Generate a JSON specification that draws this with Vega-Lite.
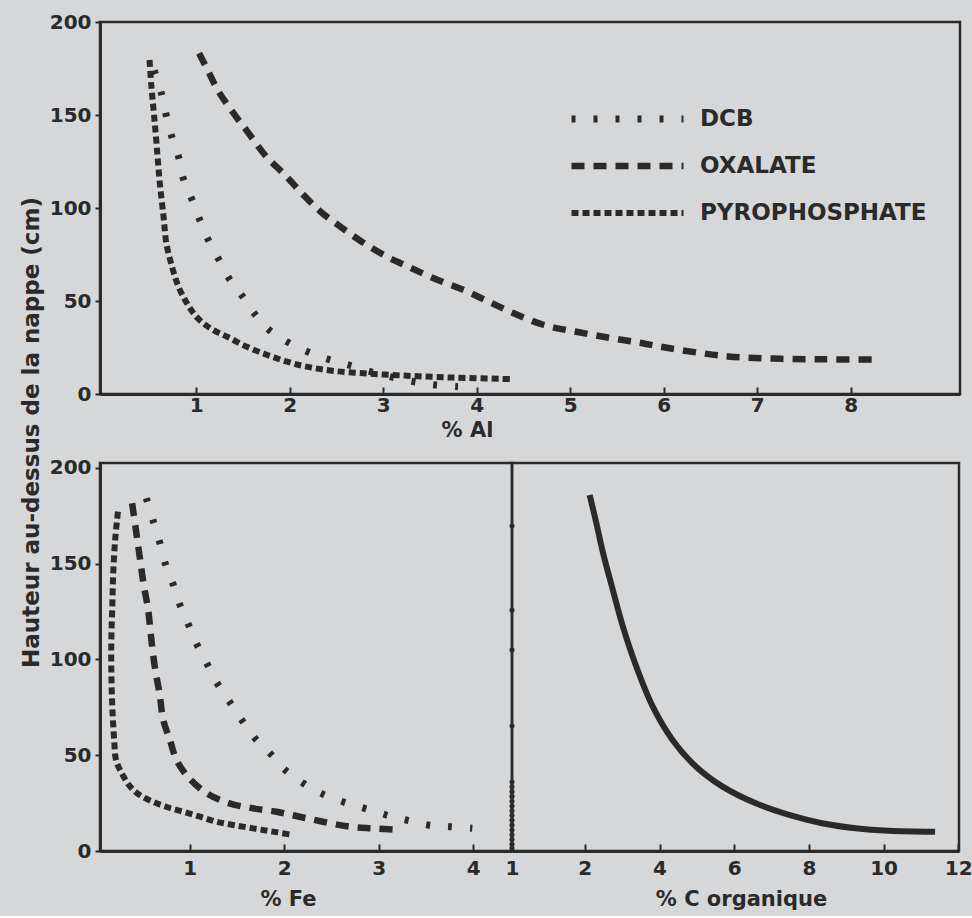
{
  "$schema": "https://vega.github.io/schema/vega-lite/v6.json",
  "background": "#d6d7d9",
  "padding": {"left": 18, "top": 10, "right": 0, "bottom": 5},
  "config": {
    "font": "DejaVu Sans",
    "view": {"stroke": "#2a2a2a", "strokeWidth": 2.5},
    "axis": {
      "labelFont": "DejaVu Sans", "labelFontWeight": "bold", "labelFontSize": 20, "labelColor": "#2a2a2a", "labelFlush": false,
      "titleFont": "DejaVu Sans", "titleFontWeight": "bold", "titleFontSize": 21, "titleColor": "#2a2a2a",
      "domainColor": "#2a2a2a", "domainWidth": 3, "tickColor": "#2a2a2a", "tickWidth": 2, "grid": false
    }
  },
  "datasets": {
    "al": [
      {"m": "DCB", "i": 1, "x": 0.55, "y": 174}, {"m": "DCB", "i": 2, "x": 0.63, "y": 161}, {"m": "DCB", "i": 3, "x": 0.68, "y": 149.5},
      {"m": "DCB", "i": 4, "x": 0.74, "y": 138}, {"m": "DCB", "i": 5, "x": 0.81, "y": 127.6}, {"m": "DCB", "i": 6, "x": 0.86, "y": 116},
      {"m": "DCB", "i": 7, "x": 0.95, "y": 105}, {"m": "DCB", "i": 8, "x": 1.03, "y": 94.5}, {"m": "DCB", "i": 9, "x": 1.12, "y": 83.7},
      {"m": "DCB", "i": 10, "x": 1.24, "y": 72.4}, {"m": "DCB", "i": 11, "x": 1.35, "y": 62.2}, {"m": "DCB", "i": 12, "x": 1.49, "y": 52.8},
      {"m": "DCB", "i": 13, "x": 1.62, "y": 43.4}, {"m": "DCB", "i": 14, "x": 1.78, "y": 34.4}, {"m": "DCB", "i": 15, "x": 1.98, "y": 27.8},
      {"m": "DCB", "i": 16, "x": 2.19, "y": 22.7}, {"m": "DCB", "i": 17, "x": 2.41, "y": 18.7}, {"m": "DCB", "i": 18, "x": 2.63, "y": 15.6},
      {"m": "DCB", "i": 19, "x": 2.9, "y": 11.5}, {"m": "DCB", "i": 20, "x": 3.1, "y": 9}, {"m": "DCB", "i": 21, "x": 3.33, "y": 6.6},
      {"m": "DCB", "i": 22, "x": 3.56, "y": 4.8}, {"m": "DCB", "i": 23, "x": 3.8, "y": 3.9},
      {"m": "OXALATE", "i": 1, "x": 1.03, "y": 183.2}, {"m": "OXALATE", "i": 2, "x": 1.13, "y": 173.3}, {"m": "OXALATE", "i": 3, "x": 1.24, "y": 162.5},
      {"m": "OXALATE", "i": 4, "x": 1.4, "y": 150.9}, {"m": "OXALATE", "i": 5, "x": 1.56, "y": 140.2}, {"m": "OXALATE", "i": 6, "x": 1.75, "y": 127.6},
      {"m": "OXALATE", "i": 7, "x": 1.95, "y": 117.7}, {"m": "OXALATE", "i": 8, "x": 2.13, "y": 107.9}, {"m": "OXALATE", "i": 9, "x": 2.33, "y": 98},
      {"m": "OXALATE", "i": 10, "x": 2.54, "y": 90}, {"m": "OXALATE", "i": 11, "x": 2.77, "y": 81.9}, {"m": "OXALATE", "i": 12, "x": 3.04, "y": 73.8},
      {"m": "OXALATE", "i": 13, "x": 3.27, "y": 68.4}, {"m": "OXALATE", "i": 14, "x": 3.54, "y": 62.2}, {"m": "OXALATE", "i": 15, "x": 3.86, "y": 55.9},
      {"m": "OXALATE", "i": 16, "x": 4.13, "y": 49.6}, {"m": "OXALATE", "i": 17, "x": 4.39, "y": 43.5}, {"m": "OXALATE", "i": 18, "x": 4.72, "y": 37.1},
      {"m": "OXALATE", "i": 19, "x": 5.08, "y": 33.3}, {"m": "OXALATE", "i": 20, "x": 5.43, "y": 30.1}, {"m": "OXALATE", "i": 21, "x": 5.76, "y": 27.4},
      {"m": "OXALATE", "i": 22, "x": 6.05, "y": 24.7}, {"m": "OXALATE", "i": 23, "x": 6.4, "y": 22}, {"m": "OXALATE", "i": 24, "x": 6.69, "y": 20.2},
      {"m": "OXALATE", "i": 25, "x": 6.97, "y": 19.4}, {"m": "OXALATE", "i": 26, "x": 7.26, "y": 18.9}, {"m": "OXALATE", "i": 27, "x": 7.55, "y": 18.7},
      {"m": "OXALATE", "i": 28, "x": 7.82, "y": 18.6}, {"m": "OXALATE", "i": 29, "x": 8.3, "y": 18.5},
      {"m": "PYROPHOSPHATE", "i": 1, "x": 0.5, "y": 179.6}, {"m": "PYROPHOSPHATE", "i": 2, "x": 0.52, "y": 165.2}, {"m": "PYROPHOSPHATE", "i": 3, "x": 0.55, "y": 149.1},
      {"m": "PYROPHOSPHATE", "i": 4, "x": 0.58, "y": 131.2}, {"m": "PYROPHOSPHATE", "i": 5, "x": 0.61, "y": 113.3}, {"m": "PYROPHOSPHATE", "i": 6, "x": 0.65, "y": 95.3},
      {"m": "PYROPHOSPHATE", "i": 7, "x": 0.68, "y": 81}, {"m": "PYROPHOSPHATE", "i": 8, "x": 0.74, "y": 68.5}, {"m": "PYROPHOSPHATE", "i": 9, "x": 0.81, "y": 57.7},
      {"m": "PYROPHOSPHATE", "i": 10, "x": 0.9, "y": 48.8}, {"m": "PYROPHOSPHATE", "i": 11, "x": 1.0, "y": 41.6}, {"m": "PYROPHOSPHATE", "i": 12, "x": 1.15, "y": 35.3},
      {"m": "PYROPHOSPHATE", "i": 13, "x": 1.33, "y": 30.8}, {"m": "PYROPHOSPHATE", "i": 14, "x": 1.54, "y": 25.4}, {"m": "PYROPHOSPHATE", "i": 15, "x": 1.76, "y": 21},
      {"m": "PYROPHOSPHATE", "i": 16, "x": 1.97, "y": 17.4}, {"m": "PYROPHOSPHATE", "i": 17, "x": 2.18, "y": 14.7}, {"m": "PYROPHOSPHATE", "i": 18, "x": 2.47, "y": 12.4},
      {"m": "PYROPHOSPHATE", "i": 19, "x": 2.83, "y": 11}, {"m": "PYROPHOSPHATE", "i": 20, "x": 3.18, "y": 10}, {"m": "PYROPHOSPHATE", "i": 21, "x": 3.54, "y": 9.2},
      {"m": "PYROPHOSPHATE", "i": 22, "x": 3.9, "y": 8.6}, {"m": "PYROPHOSPHATE", "i": 23, "x": 4.39, "y": 8}
    ],
    "fe": [
      {"m": "DCB", "i": 1, "x": 0.54, "y": 184.2}, {"m": "DCB", "i": 2, "x": 0.61, "y": 172.8}, {"m": "DCB", "i": 3, "x": 0.68, "y": 161.5},
      {"m": "DCB", "i": 4, "x": 0.74, "y": 150.2}, {"m": "DCB", "i": 5, "x": 0.82, "y": 139.8}, {"m": "DCB", "i": 6, "x": 0.89, "y": 129.3},
      {"m": "DCB", "i": 7, "x": 0.98, "y": 118.9}, {"m": "DCB", "i": 8, "x": 1.07, "y": 108.4}, {"m": "DCB", "i": 9, "x": 1.18, "y": 98},
      {"m": "DCB", "i": 10, "x": 1.29, "y": 87.6}, {"m": "DCB", "i": 11, "x": 1.42, "y": 78}, {"m": "DCB", "i": 12, "x": 1.55, "y": 68.4},
      {"m": "DCB", "i": 13, "x": 1.69, "y": 58.9}, {"m": "DCB", "i": 14, "x": 1.85, "y": 51}, {"m": "DCB", "i": 15, "x": 2.01, "y": 42.3},
      {"m": "DCB", "i": 16, "x": 2.2, "y": 35.4}, {"m": "DCB", "i": 17, "x": 2.39, "y": 30.1}, {"m": "DCB", "i": 18, "x": 2.62, "y": 25.7},
      {"m": "DCB", "i": 19, "x": 2.85, "y": 22.3}, {"m": "DCB", "i": 20, "x": 3.08, "y": 18.8}, {"m": "DCB", "i": 21, "x": 3.29, "y": 16.2},
      {"m": "DCB", "i": 22, "x": 3.52, "y": 13.6}, {"m": "DCB", "i": 23, "x": 3.75, "y": 12.7}, {"m": "DCB", "i": 24, "x": 3.99, "y": 11.9},
      {"m": "OXALATE", "i": 1, "x": 0.39, "y": 181.6}, {"m": "OXALATE", "i": 2, "x": 0.43, "y": 167.6}, {"m": "OXALATE", "i": 3, "x": 0.47, "y": 153.7},
      {"m": "OXALATE", "i": 4, "x": 0.51, "y": 139.8}, {"m": "OXALATE", "i": 5, "x": 0.56, "y": 125.8}, {"m": "OXALATE", "i": 6, "x": 0.59, "y": 111.9},
      {"m": "OXALATE", "i": 7, "x": 0.63, "y": 96.2}, {"m": "OXALATE", "i": 8, "x": 0.68, "y": 82.3}, {"m": "OXALATE", "i": 9, "x": 0.72, "y": 68.4},
      {"m": "OXALATE", "i": 10, "x": 0.79, "y": 58}, {"m": "OXALATE", "i": 11, "x": 0.86, "y": 47.5}, {"m": "OXALATE", "i": 12, "x": 0.98, "y": 38.8},
      {"m": "OXALATE", "i": 13, "x": 1.18, "y": 30.1}, {"m": "OXALATE", "i": 14, "x": 1.42, "y": 24.9}, {"m": "OXALATE", "i": 15, "x": 1.67, "y": 22.3},
      {"m": "OXALATE", "i": 16, "x": 1.92, "y": 20.5}, {"m": "OXALATE", "i": 17, "x": 2.16, "y": 17.9}, {"m": "OXALATE", "i": 18, "x": 2.41, "y": 15.3},
      {"m": "OXALATE", "i": 19, "x": 2.69, "y": 12.7}, {"m": "OXALATE", "i": 20, "x": 2.94, "y": 11.8}, {"m": "OXALATE", "i": 21, "x": 3.22, "y": 11},
      {"m": "PYROPHOSPHATE", "i": 1, "x": 0.24, "y": 177.2}, {"m": "PYROPHOSPHATE", "i": 2, "x": 0.21, "y": 162.4}, {"m": "PYROPHOSPHATE", "i": 3, "x": 0.19, "y": 145},
      {"m": "PYROPHOSPHATE", "i": 4, "x": 0.18, "y": 127.6}, {"m": "PYROPHOSPHATE", "i": 5, "x": 0.17, "y": 110.2}, {"m": "PYROPHOSPHATE", "i": 6, "x": 0.17, "y": 92.8},
      {"m": "PYROPHOSPHATE", "i": 7, "x": 0.18, "y": 75.4}, {"m": "PYROPHOSPHATE", "i": 8, "x": 0.2, "y": 58}, {"m": "PYROPHOSPHATE", "i": 9, "x": 0.22, "y": 47.5},
      {"m": "PYROPHOSPHATE", "i": 10, "x": 0.28, "y": 40.6}, {"m": "PYROPHOSPHATE", "i": 11, "x": 0.37, "y": 33.6}, {"m": "PYROPHOSPHATE", "i": 12, "x": 0.47, "y": 29.2},
      {"m": "PYROPHOSPHATE", "i": 13, "x": 0.61, "y": 25.7}, {"m": "PYROPHOSPHATE", "i": 14, "x": 0.75, "y": 23.1}, {"m": "PYROPHOSPHATE", "i": 15, "x": 0.93, "y": 20.5},
      {"m": "PYROPHOSPHATE", "i": 16, "x": 1.11, "y": 17.9}, {"m": "PYROPHOSPHATE", "i": 17, "x": 1.28, "y": 15.3}, {"m": "PYROPHOSPHATE", "i": 18, "x": 1.46, "y": 13.6},
      {"m": "PYROPHOSPHATE", "i": 19, "x": 1.67, "y": 11.8}, {"m": "PYROPHOSPHATE", "i": 20, "x": 1.88, "y": 10.1}, {"m": "PYROPHOSPHATE", "i": 21, "x": 2.09, "y": 8.4}
    ],
    "corg": [
      {"i": 1, "x": 2.13, "y": 185.9}, {"i": 2, "x": 2.31, "y": 171.1}, {"i": 3, "x": 2.49, "y": 155.5}, {"i": 4, "x": 2.75, "y": 136.3},
      {"i": 5, "x": 3.02, "y": 117.1}, {"i": 6, "x": 3.38, "y": 96.2}, {"i": 7, "x": 3.82, "y": 75.4}, {"i": 8, "x": 4.35, "y": 58},
      {"i": 9, "x": 4.98, "y": 44}, {"i": 10, "x": 5.69, "y": 33.6}, {"i": 11, "x": 6.58, "y": 24.9}, {"i": 12, "x": 7.47, "y": 18.8},
      {"i": 13, "x": 8.35, "y": 14.5}, {"i": 14, "x": 9.25, "y": 11.9}, {"i": 15, "x": 10.13, "y": 10.6}, {"i": 16, "x": 11.38, "y": 10.1}
    ],
    "dots": [
      {"x": 0.05, "y": 169.7}, {"x": 0.05, "y": 125.8}, {"x": 0.05, "y": 105}, {"x": 0.05, "y": 65.3},
      {"x": 0.05, "y": 36}, {"x": 0.05, "y": 33.5}, {"x": 0.05, "y": 31}, {"x": 0.05, "y": 28.5}, {"x": 0.05, "y": 26},
      {"x": 0.05, "y": 23.5}, {"x": 0.05, "y": 21}, {"x": 0.05, "y": 18.5}, {"x": 0.05, "y": 16}, {"x": 0.05, "y": 13.5},
      {"x": 0.05, "y": 11}, {"x": 0.05, "y": 8.5}, {"x": 0.05, "y": 6}, {"x": 0.05, "y": 3.5}, {"x": 0.05, "y": 1.5}
    ]
  },
  "spacing": 69,
  "bounds": "flush",
  "resolve": {
    "scale": {"x": "independent", "y": "independent", "strokeDash": "independent", "strokeWidth": "independent"},
    "legend": {"strokeDash": "independent", "strokeWidth": "independent"}
  },
  "vconcat": [
    {
      "width": 860,
      "height": 372,
      "data": {"name": "al"},
      "mark": {"type": "line", "color": "#2a2a2a", "interpolate": "catmull-rom"},
      "encoding": {
        "x": {"field": "x", "type": "quantitative", "scale": {"domain": [-0.03, 9.17], "nice": false, "zero": false},
          "axis": {"values": [1, 2, 3, 4, 5, 6, 7, 8], "title": "% Al", "tickSize": -7, "labelPadding": 8, "titleX": 367, "titlePadding": 4}},
        "y": {"field": "y", "type": "quantitative", "scale": {"domain": [0, 200], "nice": false},
          "axis": {"values": [0, 50, 100, 150, 200], "title": "Hauteur au-dessus de la nappe (cm)", "titleX": -69, "titleY": 410,
            "titleBaseline": "middle", "titleAlign": "center", "titleAngle": -90, "titleFontSize": 23, "tickSize": 5, "labelPadding": 4}},
        "order": {"field": "i", "type": "quantitative"},
        "strokeDash": {"field": "m", "type": "ordinal",
          "scale": {"domain": ["DCB", "OXALATE", "PYROPHOSPHATE"], "range": [[4, 18], [13, 9], [7, 4]]},
          "legend": {"orient": "none", "legendX": 468, "legendY": 85, "title": null, "symbolType": "stroke", "symbolSize": 12544,
            "symbolStrokeColor": "#2a2a2a", "labelFont": "DejaVu Sans", "labelFontWeight": "bold", "labelFontSize": 23, "labelColor": "#2a2a2a",
            "labelLimit": 0, "labelOffset": 13, "clipHeight": 24, "rowPadding": 23, "padding": 0}},
        "strokeWidth": {"field": "m", "type": "ordinal",
          "scale": {"domain": ["DCB", "OXALATE", "PYROPHOSPHATE"], "range": [7, 6, 6]},
          "legend": {"orient": "none", "legendX": 468, "legendY": 85, "title": null, "symbolType": "stroke", "symbolSize": 12544,
            "symbolStrokeColor": "#2a2a2a", "labelFont": "DejaVu Sans", "labelFontWeight": "bold", "labelFontSize": 23, "labelColor": "#2a2a2a",
            "labelLimit": 0, "labelOffset": 13, "clipHeight": 24, "rowPadding": 23, "padding": 0}}
      }
    },
    {
      "hconcat": [
        {
          "width": 412,
          "height": 388,
          "data": {"name": "fe"},
          "mark": {"type": "line", "color": "#2a2a2a", "interpolate": "catmull-rom"},
          "encoding": {
            "x": {"field": "x", "type": "quantitative", "scale": {"domain": [0.05, 4.41], "nice": false, "zero": false},
              "axis": {"values": [1, 2, 3, 4], "title": "% Fe", "tickSize": -7, "labelPadding": 14, "titleX": 188, "titlePadding": 10}},
            "y": {"field": "y", "type": "quantitative", "scale": {"domain": [0, 202.6], "nice": false},
              "axis": {"values": [0, 50, 100, 150, 200], "title": null, "tickSize": 5, "labelPadding": 4}},
            "order": {"field": "i", "type": "quantitative"},
            "strokeDash": {"field": "m", "type": "ordinal",
              "scale": {"domain": ["DCB", "OXALATE", "PYROPHOSPHATE"], "range": [[4, 18], [13, 9], [7, 4]]}, "legend": null},
            "strokeWidth": {"field": "m", "type": "ordinal",
              "scale": {"domain": ["DCB", "OXALATE", "PYROPHOSPHATE"], "range": [7, 6, 6]}, "legend": null}
          }
        },
        {
          "width": 447,
          "height": 388,
          "layer": [
            {
              "data": {"name": "corg"},
              "mark": {"type": "line", "color": "#2a2a2a", "strokeWidth": 6, "interpolate": "catmull-rom"},
              "encoding": {
                "x": {"field": "x", "type": "quantitative", "scale": {"domain": [0.05, 12.02], "nice": false, "zero": false},
                  "axis": {"values": [0.05, 2, 4, 6, 8, 10, 12], "labelExpr": "datum.value < 1 ? '1' : datum.label", "title": "% C organique",
                    "tickSize": -7, "labelPadding": 14, "titleX": 229, "titlePadding": 10}},
                "y": {"field": "y", "type": "quantitative", "scale": {"domain": [0, 202.6], "nice": false}, "axis": null},
                "order": {"field": "i", "type": "quantitative"}
              }
            },
            {
              "data": {"name": "dots"},
              "mark": {"type": "point", "filled": true, "color": "#2a2a2a", "size": 26, "opacity": 1},
              "encoding": {
                "x": {"field": "x", "type": "quantitative", "scale": {"domain": [0.05, 12.02], "nice": false, "zero": false}},
                "y": {"field": "y", "type": "quantitative", "scale": {"domain": [0, 202.6], "nice": false}}
              }
            }
          ]
        }
      ],
      "spacing": 0,
      "bounds": "flush"
    }
  ]
}
